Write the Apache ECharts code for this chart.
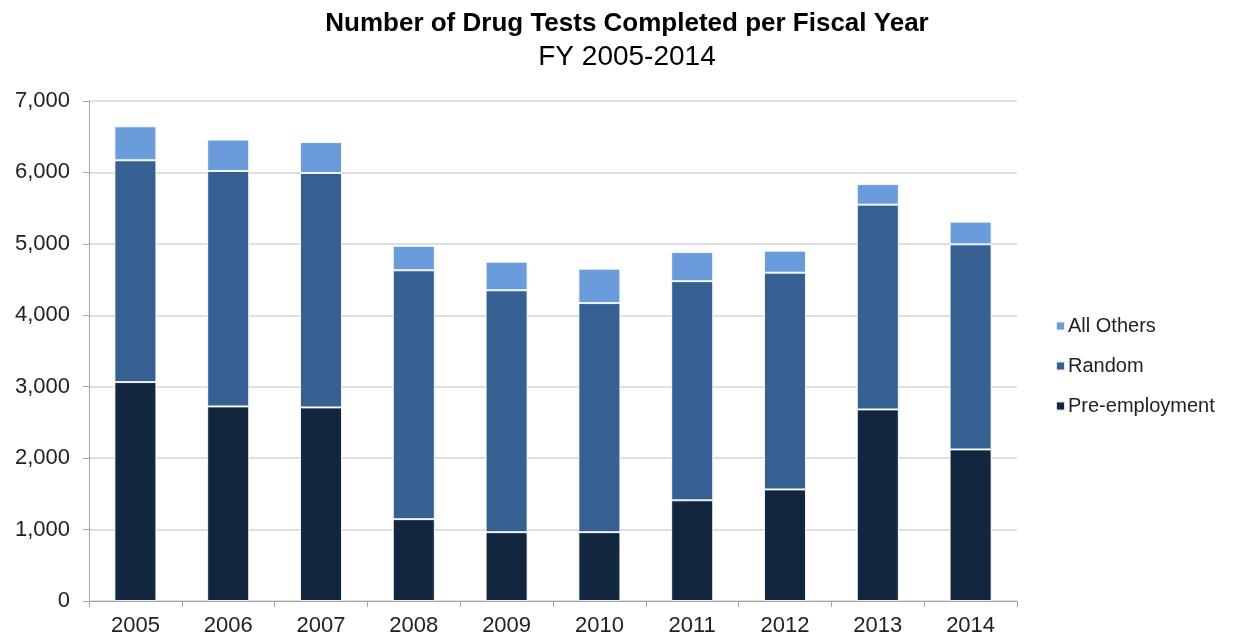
<!DOCTYPE html>
<html><head><meta charset="utf-8">
<script src="https://cdn.jsdelivr.net/npm/echarts@6/dist/echarts.min.js"></script>
<style>html,body{margin:0;padding:0;background:#fff}#c{width:1237px;height:637px}</style>
</head><body><div id="c"></div>
<script>
const years = ['2005','2006','2007','2008','2009','2010','2011','2012','2013','2014'];
const preEmployment = [3065, 2724, 2710, 1146, 964, 964, 1410, 1562, 2682, 2122];
const random = [3105, 3296, 3282, 3484, 3386, 3207, 3068, 3034, 2867, 2871];
const allOthers = [475, 440, 433, 343, 400, 482, 407, 309, 288, 318];

const font = '"Liberation Sans", Arial, sans-serif';
const chart = echarts.init(document.getElementById('c'));
const border = {borderColor: 'rgba(255,255,255,0.85)', borderWidth: 1};
chart.setOption({
  animation: false,
  title: {
    text: 'Number of Drug Tests Completed per Fiscal Year',
    subtext: 'FY 2005-2014',
    left: 622, textAlign: 'center', top: 6, itemGap: 6,
    textStyle: {fontFamily: font, fontSize: 26, fontWeight: 'bold', color: '#000'},
    subtextStyle: {fontFamily: font, fontSize: 28, color: '#000'}
  },
  grid: {left: 89, right: 220, top: 101, bottom: 36, containLabel: false},
  legend: {
    orient: 'vertical', left: 1050, top: 311, itemGap: 20,
    itemWidth: 9, itemHeight: 9, icon: 'rect',
    data: ['All Others', 'Random', 'Pre-employment'],
    textStyle: {fontFamily: font, fontSize: 20, color: '#222', padding: [0,0,0,-2]}
  },
  xAxis: {
    type: 'category', data: years,
    axisLine: {lineStyle: {color: '#a6a6a6'}},
    axisTick: {show: true, alignWithLabel: false, length: 6, lineStyle: {color: '#a6a6a6'}},
    axisLabel: {fontFamily: font, fontSize: 22, color: '#222', margin: 14}
  },
  yAxis: {
    type: 'value', min: 0, max: 7000, interval: 1000,
    axisLine: {show: true, lineStyle: {color: '#a6a6a6'}},
    axisTick: {show: true, length: 6, lineStyle: {color: '#a6a6a6'}},
    splitLine: {lineStyle: {color: '#d4d4d4', width: 1.5}},
    axisLabel: {fontFamily: font, fontSize: 22, color: '#222', margin: 19,
      formatter: v => v.toLocaleString('en-US')}
  },
  series: [
    {name: 'Pre-employment', type: 'bar', stack: 't', data: preEmployment, barWidth: 42,
     itemStyle: Object.assign({color: '#13263f'}, border)},
    {name: 'Random', type: 'bar', stack: 't', data: random, barWidth: 42,
     itemStyle: Object.assign({color: '#376092'}, border)},
    {name: 'All Others', type: 'bar', stack: 't', data: allOthers, barWidth: 42,
     itemStyle: Object.assign({color: '#6a9cdb'}, border)}
  ]
});
</script></body></html>
